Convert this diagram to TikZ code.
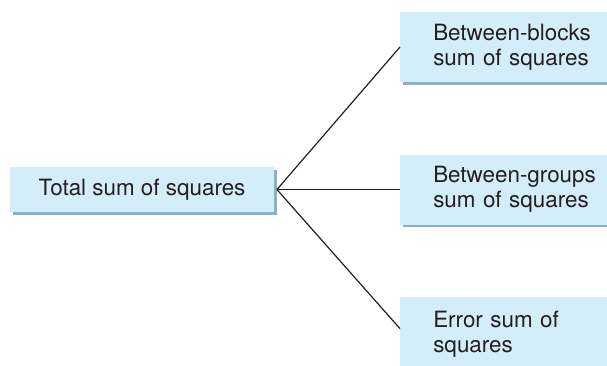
\documentclass[tikz,border=0pt]{standalone}
\usepackage{fontspec}
\setmainfont{TeX Gyre Heros}
\usetikzlibrary{positioning,shadows}
\definecolor{boxfill}{HTML}{D3EDF9}
\definecolor{boxshadow}{HTML}{88B2C8}
\definecolor{ink}{HTML}{231F20}

\begin{document}
\begin{tikzpicture}[x=0.75pt,y=-0.75pt,
          sumbox/.style={fill=boxfill, general shadow={fill=boxshadow, shadow xshift=2pt, shadow yshift=-2pt}, text=ink, font=\fontsize{16.8}{18.75}\selectfont, inner sep=0pt},
          partbox/.style={sumbox, anchor=west, minimum height=52.5pt, text width=135pt, align=left, inner xsep=24.75pt},
          link/.style={line width=0.9pt, color=ink}
        ]
          \useasboundingbox (0,0) rectangle (607,365);
          \node[sumbox, minimum width=198pt, minimum height=33.75pt] (total) at (142,189.5) {Total sum of squares};
          \node[partbox] (blocks) at (400,47) {Between-blocks\\sum of squares};
          \node[partbox] (groups) at (400,189.5) {Between-groups\\sum of squares};
          \node[partbox, minimum height=56pt] (error) at (400,334) {Error sum of\\squares};
          \draw[link] ([xshift=2pt]total.east) -- (blocks.west);
          \draw[link] ([xshift=2pt]total.east) -- (groups.west);
          \draw[link] ([xshift=2pt]total.east) -- ([yshift=4pt]error.west);
        \end{tikzpicture}
\end{document}
